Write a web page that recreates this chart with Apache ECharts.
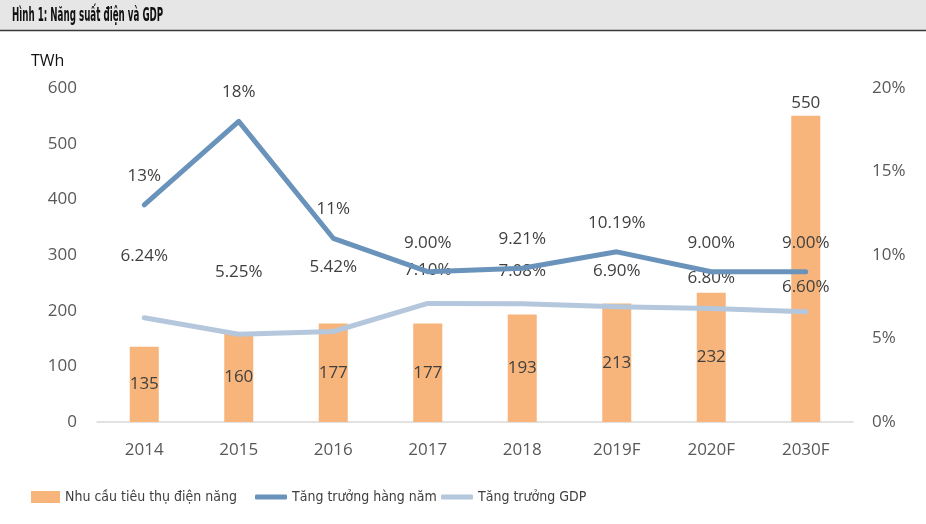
<!DOCTYPE html>
<html>
<head>
<meta charset="utf-8">
<title>Năng suất điện và GDP</title>
<script src="https://cdn.jsdelivr.net/npm/echarts@6/dist/echarts.min.js"></script>
<style>
  html, body { margin: 0; padding: 0; background: #fff; }
  #chart { width: 926px; height: 524px; }
</style>
</head>
<body>
<div id="chart"></div>
<script>
// du lieu doc tu hinh
const years = ['2014', '2015', '2016', '2017', '2018', '2019F', '2020F', '2030F']
const demand = [135, 160, 177, 177, 193, 213, 232, 550]
const annualGrowth = [13, 18, 11, 9.00, 9.21, 10.19, 9.00, 9.00]
const annualLabels = ['13%', '18%', '11%', '9.00%', '9.21%', '10.19%', '9.00%', '9.00%']
const gdpGrowth = [6.24, 5.25, 5.42, 7.10, 7.08, 6.90, 6.80, 6.60]
const gdpLabels = ['6.24%', '5.25%', '5.42%', '7.10%', '7.08%', '6.90%', '6.80%', '6.60%']

const narrow = "'Liberation Sans Narrow', 'DejaVu Sans Condensed', 'Liberation Sans', sans-serif"
const numFont = "'Open Sans', 'Noto Sans', sans-serif"

// khoang cach nhan GDP (dat tay nhu trong Excel)
const gdpLabelGap = [53, 53, 55, 24, 24, 27, 21, 16]

let chart = echarts.init(document.getElementById('chart'))

let legendText = { fontFamily: narrow, fontSize: 14, color: '#404040' }

let option = {
  animation: false,
  graphic: [
    {
      type: 'rect',
      left: 0, top: 0,
      shape: { width: 926, height: 30 },
      style: { fill: '#e6e6e6' },
      silent: true,
    },
    {
      type: 'line',
      shape: { x1: 0, y1: 30.5, x2: 926, y2: 30.5 },
      style: { stroke: '#3a3a3a', lineWidth: 1.5 },
      silent: true,
    },
    {
      type: 'text',
      x: 12, y: 16,
      scaleX: 0.51,
      style: {
        text: 'Hình 1: Năng suất điện và GDP',
        font: 'bold 19px ' + narrow,
        fill: '#111',
        verticalAlign: 'middle',
      },
    },
    {
      type: 'text',
      left: 31, top: 53,
      style: { text: 'TWh', font: '16px ' + numFont, fill: '#111' },
    },
  ],
  grid: { left: 97, right: 73, top: 88, bottom: 102 },
  legend: [
    {
      left: 26, top: 485,
      data: [{ name: 'Nhu cầu tiêu thụ điện năng', icon: 'rect' }],
      itemWidth: 29, itemHeight: 12,
      textStyle: legendText,
    },
    {
      left: 250, top: 485,
      data: [{ name: 'Tăng trưởng hàng năm', icon: 'roundRect' }],
      itemWidth: 32, itemHeight: 5,
      textStyle: legendText,
    },
    {
      left: 436, top: 485,
      data: [{ name: 'Tăng trưởng GDP', icon: 'roundRect' }],
      itemWidth: 32, itemHeight: 5,
      textStyle: legendText,
    },
  ],
  xAxis: {
    type: 'category',
    data: years,
    axisLine: { lineStyle: { color: '#d9d9d9', width: 1.5 } },
    axisTick: { show: false },
    axisLabel: { color: '#595959', fontFamily: numFont, fontSize: 17, margin: 20 },
  },
  yAxis: [
    {
      type: 'value',
      min: 0, max: 600, interval: 100,
      splitLine: { show: false },
      axisLabel: { color: '#595959', fontFamily: numFont, fontSize: 17, margin: 20 },
    },
    {
      type: 'value',
      min: 0, max: 20, interval: 5,
      splitLine: { show: false },
      axisLabel: {
        color: '#595959', fontFamily: numFont, fontSize: 17, margin: 19,
        formatter: '{value}%',
      },
    },
  ],
  series: [
    {
      name: 'Nhu cầu tiêu thụ điện năng',
      type: 'bar',
      barWidth: 29,
      data: demand.map((v, i) => ({
        value: v,
        label: { position: i === demand.length - 1 ? 'top' : 'inside', distance: 4 },
      })),
      itemStyle: { color: '#f8b57b' },
      label: { show: true, color: '#404040', fontFamily: numFont, fontSize: 17 },
      z: 1,
    },
    {
      name: 'Tăng trưởng hàng năm',
      type: 'line',
      yAxisIndex: 1,
      data: annualGrowth,
      symbol: 'circle',
      symbolSize: 1,
      itemStyle: { color: '#6a93bb' },
      lineStyle: { width: 5, color: '#6a93bb', cap: 'round', join: 'round' },
      label: {
        show: true, position: 'top', distance: 20,
        color: '#404040', fontFamily: numFont, fontSize: 17,
        formatter: p => annualLabels[p.dataIndex],
      },
      z: 3,
    },
    {
      name: 'Tăng trưởng GDP',
      type: 'line',
      yAxisIndex: 1,
      data: gdpGrowth.map((v, i) => ({ value: v, label: { distance: gdpLabelGap[i] } })),
      symbol: 'circle',
      symbolSize: 1,
      itemStyle: { color: '#b4c7dc' },
      lineStyle: { width: 5, color: '#b4c7dc', cap: 'round', join: 'round' },
      label: {
        show: true, position: 'top',
        color: '#404040', fontFamily: numFont, fontSize: 17,
        formatter: p => gdpLabels[p.dataIndex],
      },
      z: 2,
    },
  ],
}

option && chart.setOption(option)
</script>
</body>
</html>
